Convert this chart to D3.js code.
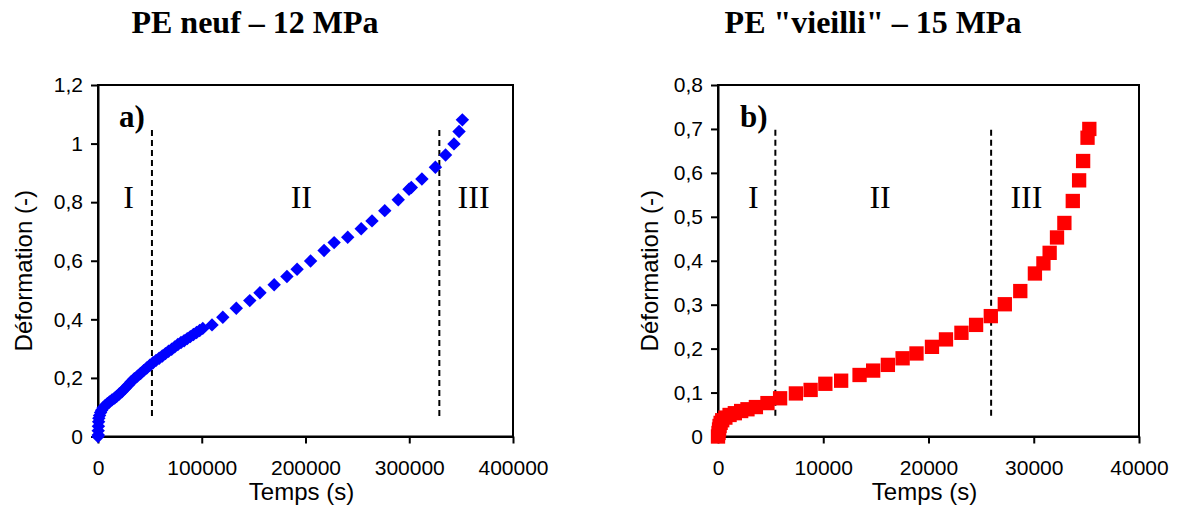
<!DOCTYPE html>
<html>
<head>
<meta charset="utf-8">
<script src="https://cdn.jsdelivr.net/npm/d3@7/dist/d3.min.js"></script>
<style>
  html, body { margin: 0; padding: 0; background: #fff; }
  svg { display: block; }
</style>
</head>
<body>
<svg id="chart" width="1178" height="508"></svg>
<script>
// ---------- Data ----------
const titleA = "PE neuf \u2013 12 MPa";
const titleB = "PE \"vieilli\" \u2013 15 MPa";
const xLabel = "Temps (s)";
const yLabel = "D\u00e9formation (-)";

const xTicksA = [0, 100000, 200000, 300000, 400000];
const yTicksA = [0, 0.2, 0.4, 0.6, 0.8, 1, 1.2];
const xTicksB = [0, 10000, 20000, 30000, 40000];
const yTicksB = [0, 0.1, 0.2, 0.3, 0.4, 0.5, 0.6, 0.7, 0.8];

// Chart a) PE neuf: time (s), strain (-)
const timeA = [0, 300, 200, 400, 600, 800, 1500, 2500, 3500, 5000, 7000, 9000, 11000, 13500, 16000, 18000,
  20500, 23000, 26000, 29000, 32000, 35000, 38000, 41000, 44000, 47000, 50000, 53000, 56000, 59000,
  62000, 65000, 68000, 71000, 74000, 77000, 80000, 83000, 86000, 89000, 92000, 95000, 98000, 101000,
  109900, 120300, 133300, 146300, 156100, 169800, 182100, 191900, 204900, 217900, 227600, 240700,
  253700, 264100, 276400, 289400, 299800, 302000, 312200, 325200, 335000, 343100, 348000, 351200];
const strainA = [0, 0.005, 0.02, 0.035, 0.05, 0.062, 0.072, 0.082, 0.09, 0.098, 0.106, 0.112, 0.118, 0.125, 0.131, 0.137,
  0.145, 0.153, 0.164, 0.175, 0.187, 0.197, 0.206, 0.215, 0.225, 0.234, 0.243, 0.252, 0.26, 0.267,
  0.275, 0.283, 0.291, 0.298, 0.306, 0.314, 0.321, 0.327, 0.334, 0.341, 0.348, 0.355, 0.362, 0.369,
  0.381, 0.407, 0.438, 0.464, 0.491, 0.518, 0.546, 0.571, 0.599, 0.635, 0.662, 0.68,
  0.709, 0.736, 0.771, 0.808, 0.844, 0.85, 0.879, 0.919, 0.961, 0.999, 1.041, 1.081];

// Chart b) PE "vieilli": time (s), strain (-)
const timeB = [0, 50, 100, 150, 250, 400, 700, 1100, 1600, 2200, 2800, 3600, 4700, 5900, 7400, 8800,
  10200, 11700, 13450, 14740, 16140, 17540, 18860, 20330, 21660, 23130, 24520, 25920, 27250, 28720,
  30110, 30920, 31510, 32210, 32910, 33710, 34310, 34690, 35110, 35280];
const strainB = [0, 0.008, 0.016, 0.024, 0.031, 0.037, 0.043, 0.049, 0.053, 0.058, 0.062, 0.067, 0.076, 0.087, 0.098, 0.106,
  0.12, 0.127, 0.14, 0.15, 0.163, 0.178, 0.189, 0.204, 0.221, 0.236, 0.254, 0.274, 0.301, 0.331,
  0.371, 0.394, 0.418, 0.453, 0.486, 0.536, 0.583, 0.627, 0.68, 0.70];

// Stage boundaries (time) and labels
const boundsA = [52000, 329000];
const boundsB = [5450, 25950];
const dashSpanA = [0.07, 1.05];
const dashSpanB = [0.047, 0.70];
const stageLabels = ["I", "II", "III"];
const stagePosA = [29500, 196000, 362000];
const stagePosB = [3350, 15400, 29300];

// ---------- Drawing ----------
const svg = d3.select("#chart");
svg.append("rect").attr("width", 1178).attr("height", 508).attr("fill", "#fff");

const fmt = v => String(+v.toFixed(1)).replace(".", ",");
const sans = "'Liberation Sans', Arial, sans-serif";
const serif = "'Liberation Serif', 'Times New Roman', serif";

function panel(cfg) {
  const x = d3.scaleLinear().domain(cfg.xDomain).range([cfg.left, cfg.right]);
  const y = d3.scaleLinear().domain(cfg.yDomain).range([cfg.bottom, cfg.top]);
  const g = svg.append("g");

  // title
  g.append("text").attr("x", cfg.titleX).attr("y", 33).attr("text-anchor", "middle")
    .style("font-family", serif).style("font-weight", "bold").style("font-size", "32px")
    .text(cfg.title);

  // frame
  g.append("rect").attr("x", cfg.left).attr("y", cfg.top)
    .attr("width", cfg.right - cfg.left).attr("height", cfg.bottom - cfg.top)
    .attr("fill", "none").attr("stroke", "#000").attr("stroke-width", 2);

  // axes
  const ya = g.append("g").attr("transform", `translate(${cfg.left},0)`)
    .call(d3.axisLeft(y).tickValues(cfg.yTicks).tickFormat(fmt).tickSize(7).tickPadding(8).tickSizeOuter(0));
  const xa = g.append("g").attr("transform", `translate(0,${cfg.bottom})`)
    .call(d3.axisBottom(x).tickValues(cfg.xTicks).tickFormat(d3.format("d")).tickSize(7).tickPadding(17).tickSizeOuter(0));
  [ya, xa].forEach(a => {
    a.select(".domain").attr("stroke-width", 2);
    a.selectAll(".tick line").attr("stroke-width", 2);
    a.selectAll(".tick text").style("font-family", sans).style("font-size", "21px").attr("fill", "#000");
  });

  // axis labels
  g.append("text").attr("x", (cfg.left + cfg.right) / 2 - 4).attr("y", 500).attr("text-anchor", "middle")
    .style("font-family", sans).style("font-size", "24px").text(xLabel);
  g.append("text").attr("transform", `translate(${cfg.yLabelX},${(cfg.top + cfg.bottom) / 2 + 10}) rotate(-90)`)
    .attr("text-anchor", "middle").style("font-family", sans).style("font-size", "24px").text(yLabel);

  // dashed stage boundaries
  g.selectAll(".bound").data(cfg.bounds).enter().append("line")
    .attr("x1", d => x(d)).attr("x2", d => x(d))
    .attr("y1", y(cfg.dashSpan[0])).attr("y2", y(cfg.dashSpan[1]))
    .attr("stroke", "#000").attr("stroke-width", 2).attr("stroke-dasharray", "6,4");

  // panel letter
  g.append("text").attr("x", cfg.letterX).attr("y", 127)
    .style("font-family", serif).style("font-weight", "bold").style("font-size", "31px").text(cfg.letter);

  // stage labels
  g.selectAll(".stage").data(stageLabels).enter().append("text")
    .attr("x", (d, i) => x(cfg.stagePos[i])).attr("y", 208).attr("text-anchor", "middle")
    .style("font-family", serif).style("font-size", "32px").text(d => d);

  // markers
  const sym = d3.symbol().type(d3.symbolSquare).size(cfg.markerSize);
  g.selectAll(".pt").data(cfg.xs.map((v, i) => [v, cfg.ys[i]])).enter().append("path")
    .attr("d", sym)
    .attr("transform", d => `translate(${x(d[0])},${y(d[1])}) rotate(${cfg.rotate})`)
    .attr("fill", cfg.color);
}

panel({
  title: titleA, titleX: 255, letter: "a)", letterX: 119, yLabelX: 32,
  left: 98, right: 513, top: 85, bottom: 436.5,
  xDomain: [0, 400000], yDomain: [0, 1.2], xTicks: xTicksA, yTicks: yTicksA,
  bounds: boundsA, dashSpan: dashSpanA, stagePos: stagePosA,
  xs: timeA, ys: strainA, color: "#0000ff", markerSize: 90, rotate: 45
});

panel({
  title: titleB, titleX: 873, letter: "b)", letterX: 740, yLabelX: 658,
  left: 718, right: 1139, top: 85, bottom: 436.5,
  xDomain: [0, 40000], yDomain: [0, 0.8], xTicks: xTicksB, yTicks: yTicksB,
  bounds: boundsB, dashSpan: dashSpanB, stagePos: stagePosB,
  xs: timeB, ys: strainB, color: "#ff0000", markerSize: 205, rotate: 0
});
</script>
</body>
</html>
